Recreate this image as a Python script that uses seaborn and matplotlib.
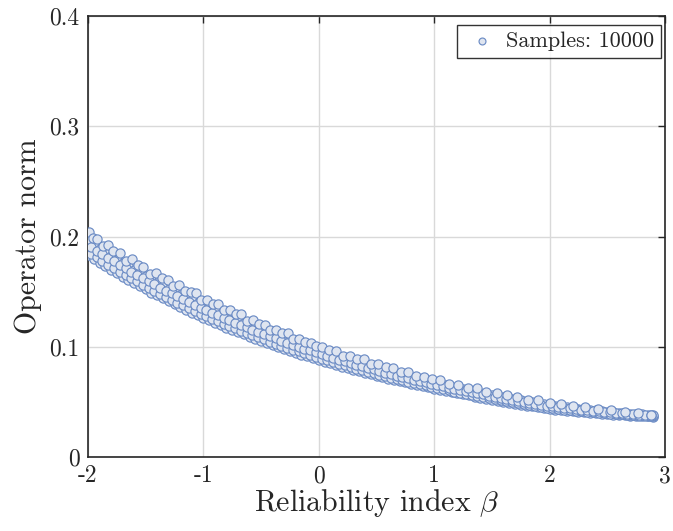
import matplotlib
matplotlib.use("Agg")
import matplotlib.pyplot as plt
import seaborn as sns
import pandas as pd

# ---- data ----
beta_grid = [-2.00, -1.95, -1.90, -1.85, -1.80, -1.75, -1.70, -1.65, -1.60, -1.55,
             -1.50, -1.45, -1.40, -1.35, -1.30, -1.25, -1.20, -1.15, -1.10, -1.05,
             -1.00, -0.95, -0.90, -0.85, -0.80, -0.75, -0.70, -0.65, -0.60, -0.55,
             -0.50, -0.45, -0.40, -0.35, -0.30, -0.25, -0.20, -0.15, -0.10, -0.05,
             0.00, 0.05, 0.10, 0.15, 0.20, 0.25, 0.30, 0.35, 0.40, 0.45,
             0.50, 0.55, 0.60, 0.65, 0.70, 0.75, 0.80, 0.85, 0.90, 0.95,
             1.00, 1.05, 1.10, 1.15, 1.20, 1.25, 1.30, 1.35, 1.40, 1.45,
             1.50, 1.55, 1.60, 1.65, 1.70, 1.75, 1.80, 1.85, 1.90, 1.95,
             2.00, 2.05, 2.10, 2.15, 2.20, 2.25, 2.30, 2.35, 2.40, 2.45,
             2.50, 2.55, 2.60, 2.65, 2.70, 2.75, 2.80, 2.85, 2.90]

norm_lower = [.1829, .1796, .1763, .1730, .1699, .1668, .1636, .1607, .1577, .1549,
              .1520, .1492, .1465, .1438, .1411, .1385, .1360, .1335, .1310, .1286,
              .1262, .1239, .1217, .1196, .1174, .1152, .1132, .1112, .1092, .1072,
              .1053, .1034, .1016, .0997, .0980, .0963, .0945, .0928, .0913, .0896,
              .0880, .0864, .0850, .0834, .0819, .0805, .0791, .0777, .0764, .0750,
              .0738, .0725, .0712, .0699, .0688, .0676, .0664, .0653, .0642, .0631,
              .0620, .0609, .0599, .0587, .0577, .0567, .0558, .0547, .0538, .0529,
              .0520, .0510, .0501, .0493, .0484, .0475, .0467, .0459, .0452, .0443,
              .0436, .0430, .0425, .0420, .0415, .0410, .0406, .0401, .0397, .0393,
              .0389, .0385, .0382, .0379, .0376, .0373, .0371, .0368, .0366]

norm_mid1 = [.1890, .1856, .1822, .1789, .1758, .1726, .1695, .1665, .1634, .1606,
             .1577, .1548, .1521, .1493, .1466, .1440, .1414, .1388, .1364, .1339,
             .1314, .1291, .1268, .1246, .1224, .1201, .1181, .1159, .1139, .1118,
             .1098, .1078, .1060, .1041, .1022, .1005, .0986, .0969, .0952, .0935,
             .0919, .0902, .0887, .0870, .0855, .0840, .0825, .0810, .0797, .0783,
             .0769, .0756, .0742, .0729, .0716, .0704, .0692, .0680, .0668, .0656,
             .0645, .0633, .0622, .0611, .0600, .0589, .0580, .0569, .0559, .0550,
             .0540, .0530, .0521, .0512, .0502, .0494, .0485, .0476, .0469, .0460,
             .0453, .0446, .0440, .0435, .0429, .0424, .0419, .0414, .0409, .0405,
             .0400, .0395, .0392, .0388, .0385, .0381, .0379, .0375, .0373]

norm_mid2 = [.1956, .1921, .1887, .1854, .1822, .1790, .1758, .1728, .1697, .1667,
             .1638, .1609, .1581, .1553, .1526, .1499, .1473, .1447, .1421, .1396,
             .1371, .1347, .1324, .1301, .1278, .1254, .1233, .1211, .1190, .1169,
             .1147, .1127, .1108, .1088, .1069, .1050, .1031, .1013, .0996, .0978,
             .0961, .0943, .0927, .0910, .0894, .0879, .0862, .0847, .0833, .0818,
             .0804, .0789, .0775, .0761, .0748, .0735, .0722, .0709, .0696, .0684,
             .0672, .0660, .0649, .0636, .0625, .0614, .0604, .0593, .0583, .0573,
             .0563, .0553, .0542, .0533, .0523, .0514, .0505, .0496, .0488, .0479,
             .0471, .0463, .0457, .0451, .0445, .0439, .0434, .0427, .0422, .0417,
             .0412, .0407, .0403, .0399, .0394, .0390, .0387, .0383, .0380]

beta_offset = [-1.975, -1.925, -1.875, -1.825, -1.775, -1.725, -1.675, -1.625, -1.575, -1.525,
               -1.475, -1.425, -1.375, -1.325, -1.275, -1.225, -1.175, -1.125, -1.075, -1.025,
               -0.975, -0.925, -0.875, -0.825, -0.775, -0.725, -0.675, -0.625, -0.575, -0.525,
               -0.475, -0.425, -0.375, -0.325, -0.275, -0.225, -0.175, -0.125, -0.075, -0.025,
               0.025, 0.075, 0.125, 0.175, 0.225, 0.275, 0.325, 0.375, 0.425, 0.475,
               0.525, 0.575, 0.625, 0.675, 0.725, 0.775, 0.825, 0.875, 0.925, 0.975,
               1.025, 1.075, 1.125, 1.175, 1.225, 1.275, 1.325, 1.375, 1.425, 1.475,
               1.525, 1.575, 1.625, 1.675, 1.725, 1.775, 1.825, 1.875, 1.925, 1.975,
               2.025, 2.075, 2.125, 2.175, 2.225, 2.275, 2.325, 2.375, 2.425, 2.475,
               2.525, 2.575, 2.625, 2.675, 2.725, 2.775, 2.825, 2.875]

norm_mid3 = [.1843, .1810, .1776, .1744, .1713, .1681, .1651, .1621, .1592, .1563,
             .1535, .1507, .1480, .1452, .1426, .1400, .1375, .1349, .1325, .1301,
             .1277, .1254, .1232, .1210, .1188, .1167, .1147, .1126, .1106, .1086,
             .1066, .1047, .1029, .1011, .0993, .0975, .0957, .0941, .0924, .0908,
             .0892, .0876, .0861, .0845, .0830, .0816, .0801, .0787, .0774, .0761,
             .0747, .0734, .0721, .0709, .0696, .0684, .0673, .0661, .0650, .0638,
             .0627, .0616, .0605, .0594, .0584, .0574, .0564, .0554, .0544, .0535,
             .0525, .0516, .0507, .0498, .0489, .0481, .0472, .0464, .0456, .0448,
             .0442, .0436, .0430, .0425, .0420, .0415, .0410, .0406, .0401, .0397,
             .0393, .0389, .0386, .0382, .0379, .0376, .0374, .0371]

norm_mid4 = [.1906, .1872, .1838, .1806, .1774, .1743, .1712, .1681, .1652, .1622,
             .1593, .1565, .1537, .1510, .1483, .1457, .1431, .1406, .1380, .1355,
             .1331, .1308, .1285, .1263, .1240, .1218, .1196, .1175, .1154, .1134,
             .1113, .1094, .1075, .1055, .1037, .1018, .1000, .0983, .0966, .0949,
             .0932, .0915, .0899, .0883, .0867, .0852, .0836, .0822, .0808, .0794,
             .0780, .0766, .0752, .0739, .0726, .0714, .0701, .0689, .0676, .0665,
             .0653, .0641, .0630, .0618, .0607, .0597, .0587, .0576, .0567, .0557,
             .0547, .0537, .0527, .0518, .0509, .0500, .0491, .0483, .0474, .0466,
             .0459, .0452, .0446, .0440, .0435, .0429, .0424, .0418, .0414, .0409,
             .0404, .0400, .0396, .0392, .0388, .0385, .0381, .0378]

beta_upper = [-1.99, -1.96, -1.92, -1.87, -1.83, -1.78, -1.72, -1.67, -1.62, -1.57,
              -1.52, -1.46, -1.41, -1.36, -1.31, -1.26, -1.21, -1.16, -1.11, -1.06,
              -1.02, -0.97, -0.92, -0.87, -0.82, -0.77, -0.72, -0.67, -0.62, -0.57,
              -0.52, -0.47, -0.42, -0.37, -0.32, -0.27, -0.22, -0.17, -0.12, -0.07,
              -0.02, 0.03, 0.09, 0.15, 0.21, 0.27, 0.33, 0.39, 0.45, 0.51,
              0.58, 0.64, 0.71, 0.77, 0.84, 0.91, 0.98, 1.05, 1.13, 1.21,
              1.29, 1.37, 1.45, 1.54, 1.63, 1.72, 1.81, 1.90, 2.00, 2.10,
              2.20, 2.31, 2.42, 2.53, 2.65, 2.77, 2.88]

norm_upper = [.2037, .1989, .1977, .1916, .1927, .1868, .1850, .1782, .1792, .1737,
              .1722, .1662, .1668, .1620, .1607, .1549, .1556, .1506, .1494, .1483,
              .1424, .1428, .1384, .1387, .1332, .1330, .1295, .1293, .1237, .1240,
              .1209, .1201, .1152, .1155, .1124, .1122, .1072, .1072, .1043, .1038,
              .1003, .1002, .0971, .0963, .0920, .0919, .0887, .0887, .0847, .0844,
              .0813, .0810, .0768, .0769, .0738, .0729, .0706, .0697, .0665, .0657,
              .0630, .0622, .0594, .0584, .0560, .0548, .0521, .0513, .0490, .0481,
              .0462, .0453, .0434, .0425, .0410, .0402, .0385]

x_ticks = [-2, -1, 0, 1, 2, 3]
x_tick_labels = ["-2", "-1", "0", "1", "2", "3"]
y_ticks = [0, 0.1, 0.2, 0.3, 0.4]
y_tick_labels = ["0", "0.1", "0.2", "0.3", "0.4"]
legend_label = "Samples: 10000"

df = pd.DataFrame({
    "beta": beta_grid * 3 + beta_offset * 2 + beta_upper,
    "norm": norm_lower + norm_mid1 + norm_mid2 + norm_mid3 + norm_mid4 + norm_upper,
})

# ---- style ----
sns.set_style("white")
plt.rcParams["font.family"] = ["cmr10", "DejaVu Serif"]
plt.rcParams["mathtext.fontset"] = "cm"
plt.rcParams["axes.unicode_minus"] = False
plt.rcParams["axes.formatter.use_mathtext"] = True

fig = plt.figure(figsize=(6.73, 5.31), dpi=100)
ax = fig.add_axes([88 / 673, 1 - 457 / 531, (665 - 88) / 673, (457 - 16) / 531])

sns.scatterplot(data=df, x="beta", y="norm", ax=ax, s=44,
                color="#dfe5f0", edgecolor="#6c8cc5", linewidth=0.85,
                label=legend_label, zorder=3)

ax.set_xlim(-2, 3)
ax.set_ylim(0, 0.4)
ax.set_xticks(x_ticks)
ax.set_xticklabels(x_tick_labels)
ax.set_yticks(y_ticks)
ax.set_yticklabels(y_tick_labels)
ax.grid(True, color="#d9d9d9", linewidth=1.0)
ax.set_axisbelow(True)
ax.tick_params(direction="in", length=5, width=1.0, top=True, right=True,
               labelsize=17, colors="#262626", pad=6)
for sp in ax.spines.values():
    sp.set_color("#262626")
    sp.set_linewidth(1.2)

ax.set_xlabel(r"Reliability index $\beta$", fontsize=21.5, color="#262626", labelpad=0)
ax.set_ylabel("Operator norm", fontsize=21.5, color="#262626", labelpad=5)

leg = ax.legend(loc="upper right", fontsize=16, frameon=True, fancybox=False,
                markerscale=0.75, borderpad=0.3, handletextpad=0.3, handlelength=1.6,
                borderaxespad=0, bbox_to_anchor=(0.993, 0.98))
leg.get_frame().set_edgecolor("black")
leg.get_frame().set_linewidth(1.0)

fig.savefig("out.png", dpi=100)
